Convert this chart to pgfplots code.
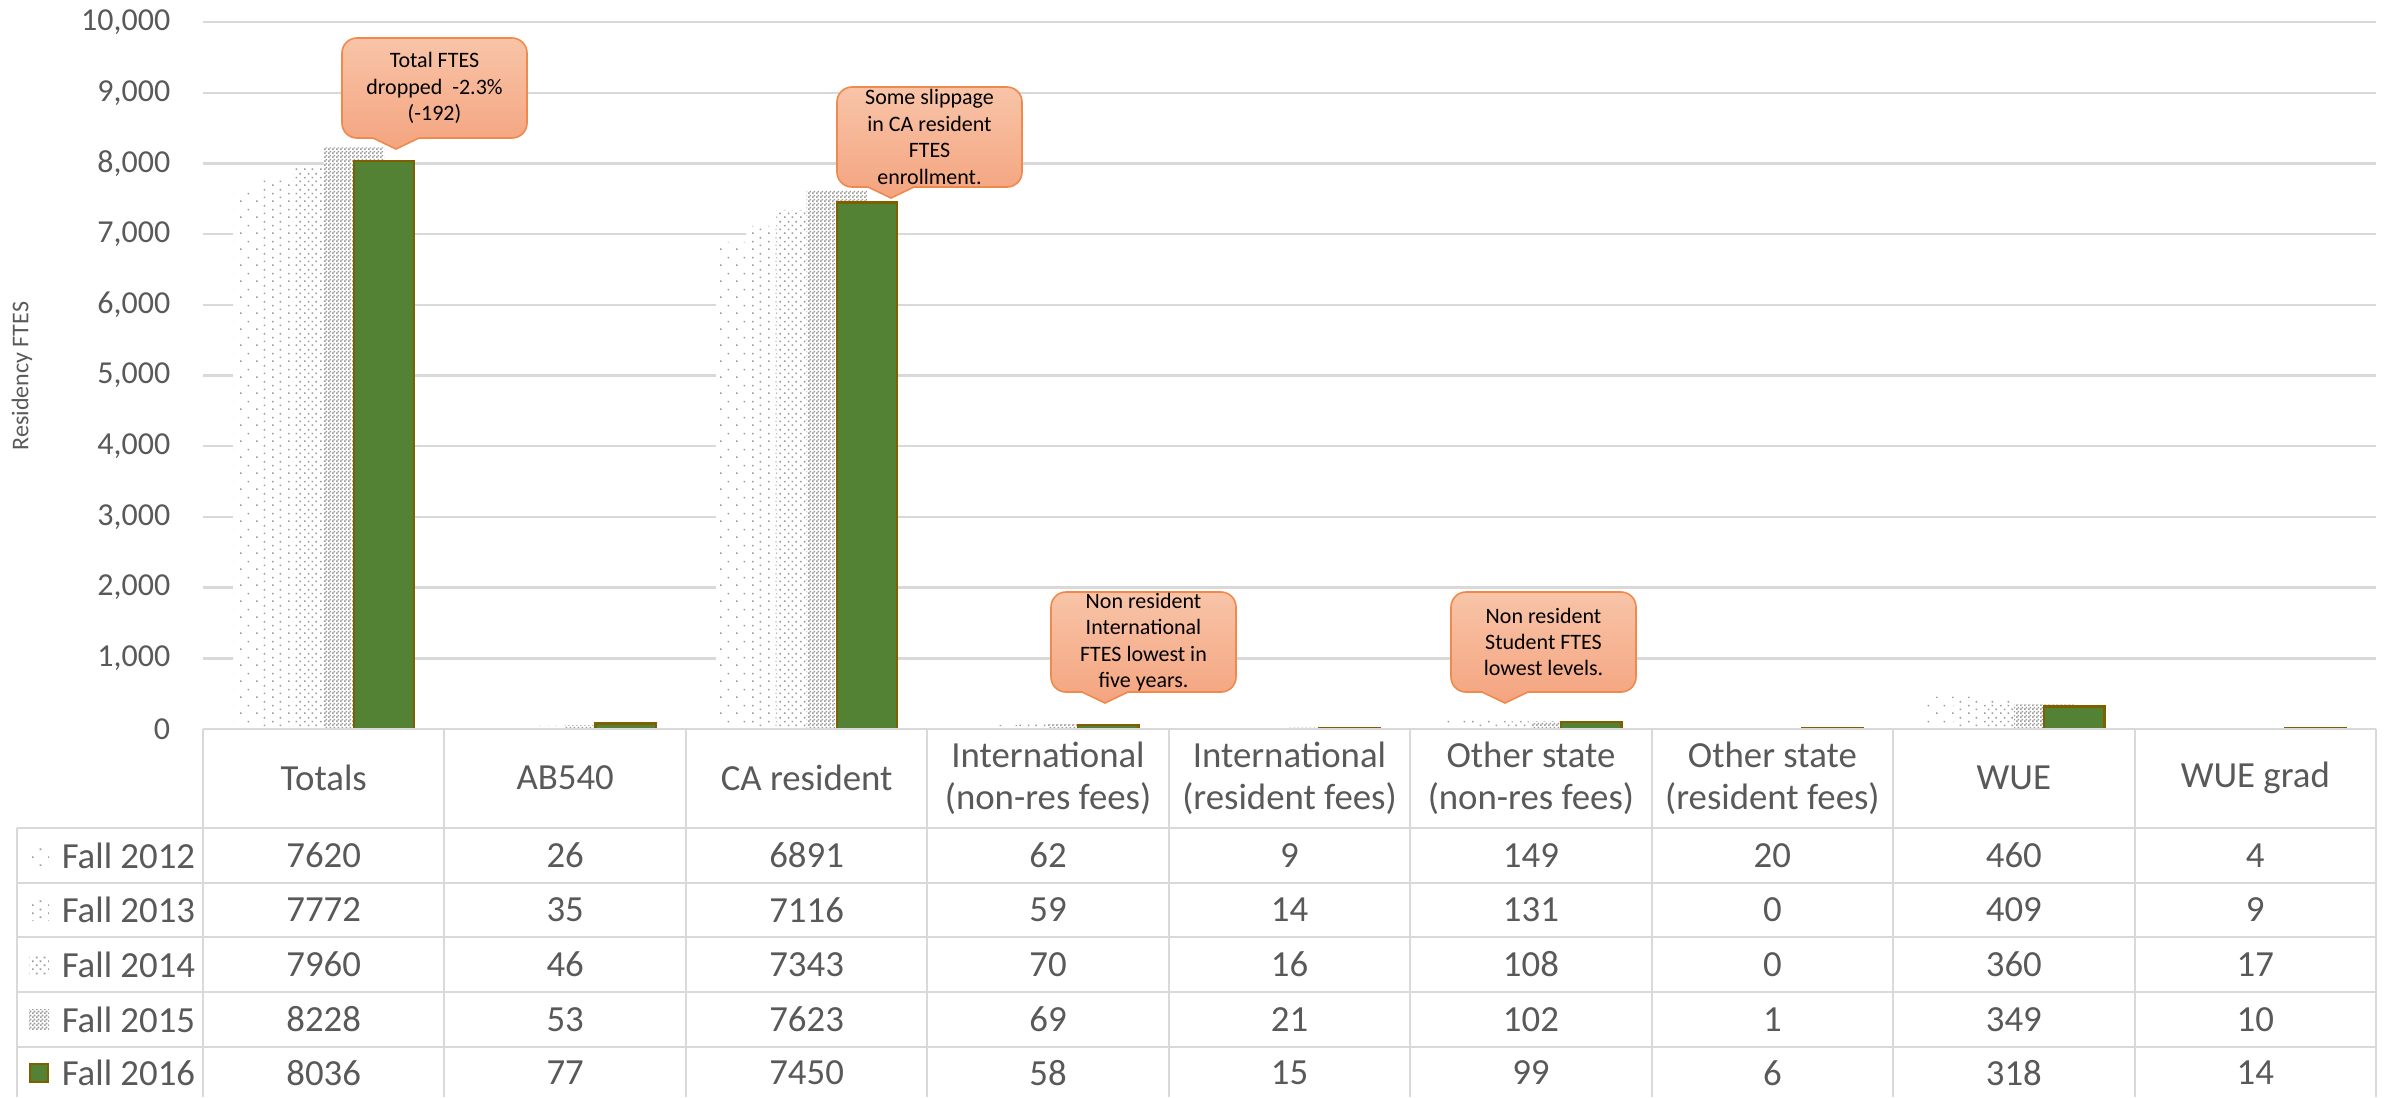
\documentclass[border=0pt]{standalone}
\usepackage{fontspec}
\setmainfont{Carlito}
\usepackage{pgfplots}
\pgfplotsset{compat=1.18}
\usepackage{pgfplotstable}
\usetikzlibrary{patterns}

\definecolor{txt}{HTML}{595959}
\definecolor{gridc}{HTML}{D9D9D9}
\definecolor{barg}{HTML}{548235}
\definecolor{bard}{HTML}{7F6000}
\definecolor{patc}{HTML}{9A9A9A}
\definecolor{ctop}{HTML}{F8C4A8}
\definecolor{cbot}{HTML}{F4A47F}
\definecolor{cbrd}{HTML}{F0894C}

\pgfdeclarepatternformonly{pA}{\pgfqpoint{0pt}{0pt}}{\pgfqpoint{4pt}{4pt}}{\pgfqpoint{4pt}{4pt}}{%
  \pgfpathrectangle{\pgfqpoint{0pt}{0pt}}{\pgfqpoint{0.45pt}{0.45pt}}%
  \pgfpathrectangle{\pgfqpoint{2pt}{2pt}}{\pgfqpoint{0.45pt}{0.45pt}}%
  \pgfusepath{fill}}
\pgfdeclarepatternformonly{pB}{\pgfqpoint{0pt}{0pt}}{\pgfqpoint{4pt}{4pt}}{\pgfqpoint{4pt}{4pt}}{%
  \pgfpathrectangle{\pgfqpoint{0pt}{0pt}}{\pgfqpoint{0.45pt}{0.45pt}}%
  \pgfpathrectangle{\pgfqpoint{2pt}{1pt}}{\pgfqpoint{0.45pt}{0.45pt}}%
  \pgfpathrectangle{\pgfqpoint{0pt}{2pt}}{\pgfqpoint{0.45pt}{0.45pt}}%
  \pgfpathrectangle{\pgfqpoint{2pt}{3pt}}{\pgfqpoint{0.45pt}{0.45pt}}%
  \pgfusepath{fill}}
\pgfdeclarepatternformonly{pC}{\pgfqpoint{0pt}{0pt}}{\pgfqpoint{4pt}{4pt}}{\pgfqpoint{4pt}{4pt}}{%
  \pgfpathrectangle{\pgfqpoint{0pt}{0pt}}{\pgfqpoint{0.45pt}{0.45pt}}%
  \pgfpathrectangle{\pgfqpoint{2pt}{0pt}}{\pgfqpoint{0.45pt}{0.45pt}}%
  \pgfpathrectangle{\pgfqpoint{1pt}{1pt}}{\pgfqpoint{0.45pt}{0.45pt}}%
  \pgfpathrectangle{\pgfqpoint{3pt}{1pt}}{\pgfqpoint{0.45pt}{0.45pt}}%
  \pgfpathrectangle{\pgfqpoint{0pt}{2pt}}{\pgfqpoint{0.45pt}{0.45pt}}%
  \pgfpathrectangle{\pgfqpoint{2pt}{2pt}}{\pgfqpoint{0.45pt}{0.45pt}}%
  \pgfpathrectangle{\pgfqpoint{1pt}{3pt}}{\pgfqpoint{0.45pt}{0.45pt}}%
  \pgfpathrectangle{\pgfqpoint{3pt}{3pt}}{\pgfqpoint{0.45pt}{0.45pt}}%
  \pgfusepath{fill}}
\pgfdeclarepatternformonly{pD}{\pgfqpoint{0pt}{0pt}}{\pgfqpoint{1pt}{1pt}}{\pgfqpoint{1pt}{1pt}}{%
  \pgfpathrectangle{\pgfqpoint{0pt}{0pt}}{\pgfqpoint{0.5pt}{0.5pt}}%
  \pgfpathrectangle{\pgfqpoint{0.5pt}{0.5pt}}{\pgfqpoint{0.5pt}{0.5pt}}%
  \pgfusepath{fill}}

\pgfplotstableread{
x y2012 y2013 y2014 y2015 y2016
0 7620 7772 7960 8228 8036
1 26 35 46 53 77
2 6891 7116 7343 7623 7450
3 62 59 70 69 58
4 9 14 16 21 15
5 149 131 108 102 99
6 20 0 0 1 6
7 460 409 360 349 318
8 4 9 17 10 14
}\data

\newcommand\tabfont{\fontsize{9.2}{10.4}\selectfont}
\newcommand\cfont{\fontsize{5.5}{6.6}\selectfont}

% callout: box top-left at (#1,#2) in pixel units, 185 x 100, pointer down
\newcommand\callout[3]{%
  \begin{scope}[shift={(#1,#2)}, y=0.25pt]
  \draw[draw=cbrd, line width=0.4pt, top color=ctop, bottom color=cbot]
    (54,-111) -- (31,-100) -- (15,-100)
    arc[start angle=270, end angle=180, radius=15] -- (0,-15)
    arc[start angle=180, end angle=90, radius=15] -- (170,0)
    arc[start angle=90, end angle=0, radius=15] -- (185,-85)
    arc[start angle=0, end angle=-90, radius=15] -- (77,-100) -- cycle;
  \node[align=center, font=\cfont, text=black] at (92.5,-50) {#3};
  \end{scope}}

\begin{document}
\begin{tikzpicture}
\useasboundingbox (0,0) rectangle (598pt,-274.25pt);
\begin{axis}[
  at={(50.75pt,-182.25pt)}, anchor=south west,
  scale only axis, width=543.25pt, height=176.75pt,
  xmin=-0.5, xmax=8.5, ymin=0, ymax=10000,
  axis line style={draw=none},
  xtick=\empty,
  ytick={0,1000,...,10000},
  scaled y ticks=false,
  ymajorgrids, grid style={draw=gridc, line width=0.6pt},
  major tick length=0pt, tick style={draw=none},
  yticklabel style={font=\fontsize{8}{9}\selectfont, color=txt, inner sep=0pt, xshift=-8pt},
  /pgf/number format/assume math mode=true,
  /pgf/number format/1000 sep={,},
]
\addplot[ybar, bar width=0.25, bar shift=-0.25, draw=none, preaction={fill=white}, pattern=pA, pattern color=patc] table[x=x, y=y2012] {\data};
\addplot[ybar, bar width=0.25, bar shift=-0.125, draw=none, preaction={fill=white}, pattern=pB, pattern color=patc] table[x=x, y=y2013] {\data};
\addplot[ybar, bar width=0.25, bar shift=0, draw=none, preaction={fill=white}, pattern=pC, pattern color=patc] table[x=x, y=y2014] {\data};
\addplot[ybar, bar width=0.25, bar shift=0.125, draw=none, preaction={fill=white}, pattern=pD, pattern color=patc] table[x=x, y=y2015] {\data};
\addplot[ybar, bar width=0.25, bar shift=0.25, fill=barg, draw=bard, line width=0.6pt] table[x=x, y=y2016] {\data};
\end{axis}

\begin{scope}[x=0.25pt, y=-0.25pt]
  % y label
  \node[rotate=90, font=\fontsize{6}{7}\selectfont, color=txt] at (22,376) {Residency FTES};
  % table lines
  \begin{scope}[draw=gridc, line width=0.5pt]
    \draw (203,729) -- (2376,729);
    \foreach \yy in {828,883,937,992,1047} \draw (17,\yy) -- (2376,\yy);
    \draw (17,828) -- (17,1097);
    \foreach \k in {0,...,9} \draw ({203+241.444*\k},729) -- ({203+241.444*\k},1097);
  \end{scope}
  % headers
  \begin{scope}[every node/.style={font=\tabfont, color=txt, align=center}]
    \node at ({203+241.444*0.5},778) {Totals};
    \node at ({203+241.444*1.5},778) {AB540};
    \node at ({203+241.444*2.5},778) {CA resident};
    \node at ({203+241.444*3.5},778) {International\\(non-res fees)};
    \node at ({203+241.444*4.5},778) {International\\(resident fees)};
    \node at ({203+241.444*5.5},778) {Other state\\(non-res fees)};
    \node at ({203+241.444*6.5},778) {Other state\\(resident fees)};
    \node at ({203+241.444*7.5},778) {WUE};
    \node at ({203+241.444*8.5},778) {WUE grad};
    % row labels
    \foreach \s/\yy in {2012/855.5, 2013/910, 2014/964.5, 2015/1019.5, 2016/1073}
      \node[anchor=west, inner sep=0pt] at (61,\yy) {Fall \s};
    % values
    \foreach \k in {0,...,8} {
      \foreach \s/\yy in {2012/855.5, 2013/910, 2014/964.5, 2015/1019.5, 2016/1073} {
        \pgfplotstablegetelem{\k}{y\s}\of\data
        \node at ({203+241.444*(\k+0.5)},\yy) {\pgfplotsretval};
      }
    }
  \end{scope}
  % legend keys
  \fill[preaction={fill=white}, pattern=pA, pattern color=patc] (29,845.5) rectangle (49,865.5);
  \fill[preaction={fill=white}, pattern=pB, pattern color=patc] (29,900) rectangle (49,920);
  \fill[preaction={fill=white}, pattern=pC, pattern color=patc] (29,954.5) rectangle (49,974.5);
  \fill[preaction={fill=white}, pattern=pD, pattern color=patc] (29,1009.5) rectangle (49,1029.5);
  \draw[fill=barg, draw=bard, line width=0.6pt] (30,1064) rectangle (48,1082);
  % callouts
  \callout{342}{38}{Total FTES\\dropped \ -2.3\%\\(-192)}
  \callout{837}{87}{Some slippage\\in CA resident\\FTES\\enrollment.}
  \callout{1051}{592}{Non resident\\International\\FTES lowest in\\five years.}
  \callout{1451}{592}{Non resident\\Student FTES\\lowest levels.}
\end{scope}
\end{tikzpicture}
\end{document}
